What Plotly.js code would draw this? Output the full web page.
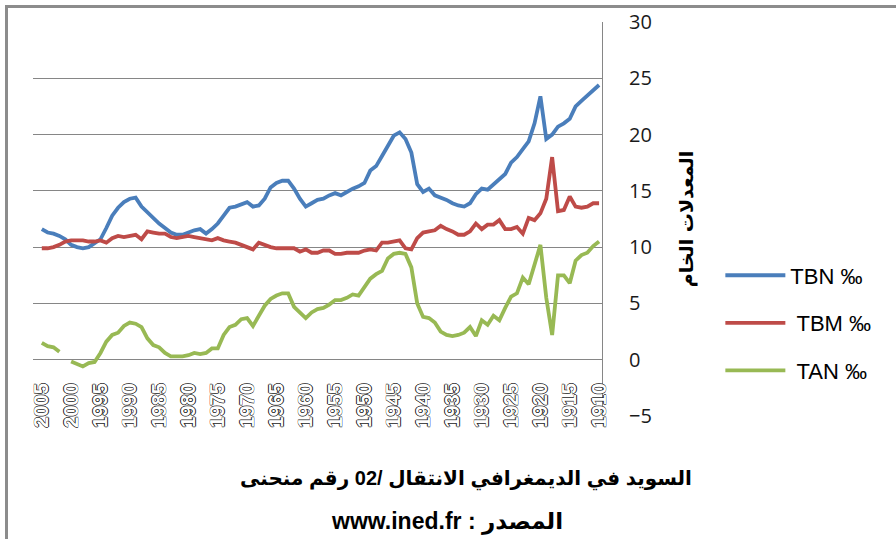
<!DOCTYPE html>
<html>
<head>
<meta charset="utf-8">
<script src="https://cdn.plot.ly/plotly-3.0.1.min.js"></script>
<style>
  html, body { margin: 0; padding: 0; background: #ffffff; overflow: hidden; }
  #frame { position: absolute; left: 5px; top: 5px; width: 1000px; height: 1000px;
           border-left: 3px solid #8c8c8c; border-top: 3px solid #8c8c8c; }
  #chart { position: absolute; left: 0; top: 0; width: 896px; height: 539px; }
</style>
</head>
<body>
<div id="frame"></div>
<div id="chart"></div>
<script>
// Years (x categories), from 2005 down to 1910
const years = [];
for (let y = 2005; y >= 1910; y--) years.push(y);

// Crude birth rate (per mille), 2005 -> 1910
const tbn = [
  11.6, 11.3, 11.2, 11.0, 10.7, 10.2, 10.0, 9.9, 10.0, 10.4,
  10.7, 11.7, 12.8, 13.5, 14.0, 14.3, 14.4, 13.6, 13.1, 12.5,
  12.1, 11.7, 11.3, 11.1, 11.1, 11.3, 11.5, 11.6, 11.2, 11.6,
  12.1, 12.8, 13.5, 13.6, 13.8, 14.0, 13.6, 13.7, 14.3, 15.3,
  15.7, 15.9, 15.9, 15.2, 14.3, 13.6, 13.9, 14.2, 14.3, 14.6,
  14.8, 14.6, 14.9, 15.2, 15.4, 15.7, 16.8, 17.2, 18.1, 19.0,
  19.9, 20.2, 19.6, 18.4, 15.6, 14.9, 15.2, 14.6, 14.4, 14.2,
  13.9, 13.7, 13.6, 13.9, 14.7, 15.2, 15.1, 15.6, 16.0, 16.5,
  17.5, 18.0, 18.7, 19.4, 21.0, 23.4, 19.6, 20.0, 20.7, 21.0,
  21.4, 22.5, 23.0, 23.5, 24.0, 24.4
];

// Crude death rate (per mille), 2005 -> 1910
const tbm = [
  9.9, 9.9, 10.0, 10.2, 10.5, 10.6, 10.6, 10.6, 10.5, 10.5,
  10.6, 10.4, 10.8, 11.0, 10.9, 11.0, 11.1, 10.7, 11.4, 11.3,
  11.2, 11.2, 10.9, 10.8, 10.9, 11.0, 10.9, 10.8, 10.7, 10.6,
  10.8, 10.6, 10.5, 10.4, 10.2, 10.0, 9.8, 10.4, 10.2, 10.0,
  9.9, 9.9, 9.9, 9.9, 9.6, 9.8, 9.5, 9.5, 9.7, 9.7,
  9.4, 9.4, 9.5, 9.5, 9.5, 9.7, 9.8, 9.7, 10.4, 10.4,
  10.5, 10.6, 9.9, 9.8, 10.8, 11.3, 11.4, 11.5, 11.9, 11.6,
  11.4, 11.1, 11.1, 11.4, 12.1, 11.6, 12.0, 12.0, 12.4, 11.6,
  11.6, 11.8, 11.2, 12.6, 12.4, 13.0, 14.3, 18.0, 13.2, 13.3,
  14.5, 13.6, 13.5, 13.6, 13.9, 13.9
];

// Natural growth rate (per mille), 2005 -> 1910 (2001 missing in the source)
const tan = [
  1.5, 1.2, 1.1, 0.7, null, -0.15, -0.4, -0.6, -0.3, -0.2,
  0.6, 1.6, 2.2, 2.4, 3.0, 3.3, 3.2, 2.9, 1.9, 1.3,
  1.1, 0.6, 0.3, 0.3, 0.3, 0.4, 0.6, 0.5, 0.6, 1.0,
  1.0, 2.2, 2.9, 3.1, 3.6, 3.7, 3.0, 3.9, 4.8, 5.4,
  5.7, 5.9, 5.9, 4.7, 4.2, 3.7, 4.2, 4.5, 4.6, 4.9,
  5.3, 5.3, 5.5, 5.8, 5.7, 6.4, 7.2, 7.6, 7.9, 9.0,
  9.4, 9.5, 9.4, 8.2, 5.0, 3.8, 3.7, 3.3, 2.5, 2.2,
  2.1, 2.2, 2.4, 2.9, 2.1, 3.5, 3.1, 3.9, 3.5, 4.6,
  5.6, 5.9, 7.3, 6.7, 8.6, 10.2, 5.5, 2.2, 7.5, 7.5,
  6.8, 8.8, 9.3, 9.5, 10.1, 10.5
];

const seriesNames = ['TBN ‰', '\u00A0TBM ‰', '\u00A0TAN ‰'];
const yTitle = 'المعدلات الخام';
// The reference lays the title's words out left to right; LRE + LRM marks reproduce that.
const titleWords = ['منحنى', 'رقم', '02/', 'الانتقال', 'الديمغرافي', 'في', 'السويد'];
const titleText = '\u202A\u200E' + titleWords.join('\u200E \u200E') + '\u200E\u202C';
const sourceText = '\u202Bالمصدر : www.ined.fr\u202C';

const colors = ['#4a7ebb', '#be4b48', '#98b954'];
const seriesData = [tbn, tbm, tan];

const traces = seriesData.map((vals, i) => ({
  type: 'scatter',
  mode: 'lines',
  x: years,
  y: vals,
  name: seriesNames[i],
  legendgroup: 'g' + i,
  connectgaps: false,
  line: { color: colors[i], width: 3.8 },
  hoverinfo: 'skip'
}));

const layout = {
  width: 896,
  height: 539,
  margin: { l: 33, r: 294, t: 22, b: 123 },
  paper_bgcolor: 'rgba(0,0,0,0)',
  plot_bgcolor: 'rgba(0,0,0,0)',
  showlegend: true,
  legend: {
    x: 1.208,
    y: 0.41,
    xanchor: 'left',
    yanchor: 'top',
    traceorder: 'grouped',
    tracegroupgap: 16,
    itemwidth: 60,
    font: { family: 'Liberation Sans, Arial, sans-serif', size: 22, color: '#000000' },
    bgcolor: 'rgba(0,0,0,0)'
  },
  title: {
    text: titleText,
    xref: 'container',
    yref: 'container',
    x: 466 / 896,
    xanchor: 'center',
    y: 1 - 478 / 539,
    yanchor: 'middle',
    font: { family: 'Liberation Sans, DejaVu Sans, sans-serif', size: 20, color: '#000000', weight: 'bold' }
  },
  xaxis: {
    type: 'linear',
    range: [2006.5, 1909.5],
    autorange: false,
    anchor: 'free',
    position: 0.096,
    tickmode: 'linear',
    tick0: 1910,
    dtick: 5,
    tickangle: -90,
    ticks: '',
    showgrid: false,
    zeroline: false,
    showline: false,
    tickfont: {
      family: 'Liberation Sans, Arial, sans-serif',
      size: 20,
      color: '#ffffff',
      weight: 'bold',
      shadow: '0.7px 0 0 #222, -0.7px 0 0 #222, 0 0.7px 0 #222, 0 -0.7px 0 #222'
    }
  },
  yaxis: {
    side: 'right',
    range: [-5, 30],
    autorange: false,
    tickmode: 'linear',
    tick0: 0,
    dtick: 5,
    ticks: '',
    ticklabelstandoff: 22,
    showgrid: true,
    gridcolor: '#868686',
    gridwidth: 1,
    zeroline: false,
    showline: true,
    linecolor: '#868686',
    linewidth: 1,
    tickfont: { family: 'Open Sans, sans-serif', size: 20, color: '#1a1a1a' },
    title: {
      text: yTitle,
      standoff: 28,
      font: { family: 'DejaVu Sans, sans-serif', size: 19, color: '#000000', weight: 'bold' }
    }
  },
  annotations: [{
    text: sourceText,
    xref: 'paper',
    yref: 'paper',
    x: (447 - 33) / 569,
    y: (416 - 521) / 394,
    xanchor: 'center',
    yanchor: 'middle',
    showarrow: false,
    font: { family: 'Liberation Sans, DejaVu Sans, sans-serif', size: 23, color: '#000000', weight: 'bold' }
  }]
};

Plotly.newPlot('chart', traces, layout, { staticPlot: true, displayModeBar: false });
</script>
</body>
</html>
